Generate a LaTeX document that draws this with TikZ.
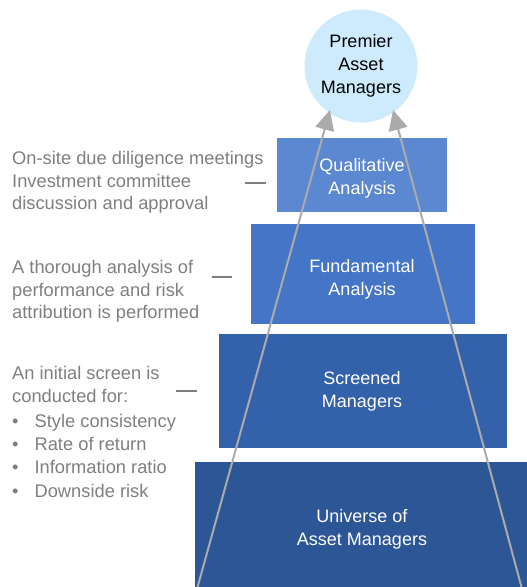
\documentclass[tikz,border=0pt]{standalone}
\usepackage{fontspec}
\setmainfont{Liberation Sans}
\usetikzlibrary{arrows.meta}
\definecolor{cQual}{HTML}{5B88D0}
\definecolor{cFund}{HTML}{4475C6}
\definecolor{cScr}{HTML}{3361AA}
\definecolor{cUni}{HTML}{2D5696}
\definecolor{cCirc}{HTML}{CDEBFC}
\definecolor{cGray}{HTML}{7F7F7F}
\definecolor{cLine}{HTML}{ABABAB}
\tikzset{
  boxtext/.style={text=white, align=center, font=\fontsize{18}{23}\selectfont},
  sidetext/.style={text=cGray, align=left, anchor=north west, inner sep=0pt, font=\fontsize{18.3}{22.7}\selectfont},
  tick/.style={draw=cGray, line width=2pt},
  arr/.style={draw=cLine, line width=2pt, -{Triangle[length=20pt,width=19pt]}}
}
\begin{document}
\begin{tikzpicture}[x=1pt,y=-1pt]
\useasboundingbox (0,0) rectangle (527,587);
% stage boxes
\fill[cQual] (277,138) rectangle (447,212);
\fill[cFund] (251,224) rectangle (475,324);
\fill[cScr] (219,334) rectangle (507,448);
\fill[cUni] (195,462) rectangle (527,587);
\node[boxtext] (qual) at (362,178) {Qualitative\\Analysis};
\node[boxtext] (fund) at (362,279) {Fundamental\\Analysis};
\node[boxtext] (scr) at (362,391) {Screened\\Managers};
\node[boxtext] (uni) at (362,529) {Universe of\\Asset Managers};
% circle
\node[circle, fill=cCirc, minimum size=113pt, inner sep=0pt, align=center,
      font=\fontsize{18}{23}\selectfont] (prem) at (361,66) {Premier\\Asset\\Managers};
% side texts
\node[sidetext] (t1) at (12,151) {On-site due diligence meetings\\Investment committee\\discussion and approval};
\node[sidetext] (t2) at (12,260) {A thorough analysis of\\performance and risk\\attribution is performed};
\node[sidetext] (t3) at (12,366) {An initial screen is\\conducted for:};
\node[sidetext, font=\fontsize{18.3}{23.2}\selectfont] (b1) at (12,414) {\textbullet\hspace{16pt}Style consistency\\\textbullet\hspace{16pt}Rate of return\\\textbullet\hspace{16pt}Information ratio\\\textbullet\hspace{16pt}Downside risk};
% ticks
\coordinate (d1a) at (245,183); \coordinate (d1b) at (266,183);
\coordinate (d2a) at (212,277); \coordinate (d2b) at (232,277);
\coordinate (d3a) at (176,391); \coordinate (d3b) at (197,391);
\draw[tick] (d1a) -- (d1b);
\draw[tick] (d2a) -- (d2b);
\draw[tick] (d3a) -- (d3b);
% arrows
\coordinate (lb) at (197,589);
\coordinate (rb) at (522,589);
\coordinate (lt) at (330,110);
\coordinate (rt) at (393,110);
\draw[arr] (lb) -- (lt);
\draw[arr] (rb) -- (rt);
\end{tikzpicture}
\end{document}
